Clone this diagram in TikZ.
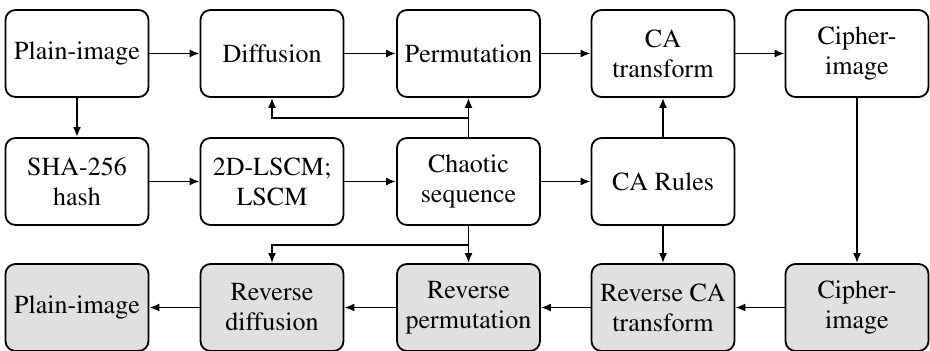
\documentclass[tikz,border=0pt]{standalone}
\usepackage[T1]{fontenc}
\usepackage{times}
\usetikzlibrary{arrows.meta}
\begin{document}
\begin{tikzpicture}[x=0.5pt,y=-0.5pt,>={Latex[length=5pt,width=4pt]},
    box/.style={draw,rounded corners=5pt,line width=0.9pt,minimum width=71.5pt,
      minimum height=43.5pt,align=center,font=\fontsize{13}{15}\selectfont},
    revbox/.style={box,fill=black!12},
    flow/.style={->,line width=0.9pt}]
    \useasboundingbox (0,0) rectangle (930,351);
    % encryption
    \node[box] (plain) at (77,53.5) {Plain-image};
    \node[box] (diff) at (272,53.5) {Diffusion};
    \node[box] (perm) at (468.5,53.5) {Permutation};
    \node[box] (catr) at (663,53.5) {CA\\transform};
    \node[box] (cipher) at (857,53.5) {Cipher-\\image};
    % keys
    \node[box] (sha) at (77,181.5) {SHA-256\\hash};
    \node[box] (lscm) at (272,181.5) {2D-LSCM;\\LSCM};
    \node[box] (chaos) at (468.5,181.5) {Chaotic\\sequence};
    \node[box] (rules) at (663,181.5) {CA Rules};
    % decryption
    \node[revbox] (rplain) at (77,307.5) {Plain-image};
    \node[revbox] (rdiff) at (272,307.5) {Reverse\\diffusion};
    \node[revbox] (rperm) at (468.5,307.5) {Reverse\\permutation};
    \node[revbox] (rcatr) at (663,307.5) {Reverse CA\\transform};
    \node[revbox] (rcipher) at (857,307.5) {Cipher-\\image};
    % branch points
    \coordinate (up) at (468.5,118);
    \coordinate (down) at (468.5,245);
    % arrows
    \draw[flow] (plain) -- (diff);
    \draw[flow] (diff) -- (perm);
    \draw[flow] (perm) -- (catr);
    \draw[flow] (catr) -- (cipher);
    \draw[flow] (plain) -- (sha);
    \draw[flow] (sha) -- (lscm);
    \draw[flow] (lscm) -- (chaos);
    \draw[flow] (chaos) -- (rules);
    \draw[flow] (chaos) -- (perm);
    \draw[flow] (up) -| (diff.south);
    \draw[flow] (rules) -- (catr);
    \draw[flow] (chaos) -- (rperm);
    \draw[flow] (down) -| (rdiff.north);
    \draw[flow] (rules) -- (rcatr);
    \draw[flow] (cipher) -- (rcipher);
    \draw[flow] (rcipher) -- (rcatr);
    \draw[flow] (rcatr) -- (rperm);
    \draw[flow] (rperm) -- (rdiff);
    \draw[flow] (rdiff) -- (rplain);
\end{tikzpicture}
\end{document}
